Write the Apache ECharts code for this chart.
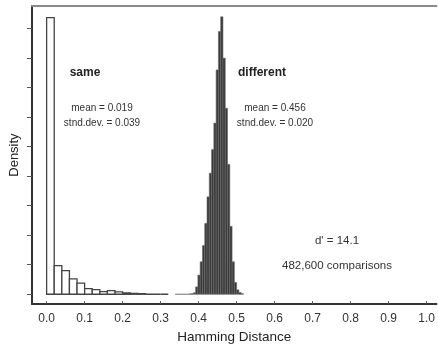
<!DOCTYPE html>
<html>
<head>
<meta charset="utf-8">
<script src="https://cdn.jsdelivr.net/npm/echarts@6/dist/echarts.min.js"></script>
<style>
  html, body { margin: 0; padding: 0; background: #fff; }
  #chart { width: 438px; height: 349px; }
</style>
</head>
<body>
<div id="chart"></div>
<script>
  // "same" histogram: bin starts (width 0.02) and heights
  var sameBinWidth = 0.02
  var sameBins = [0.00, 0.02, 0.04, 0.06, 0.08, 0.10, 0.12, 0.14, 0.16, 0.18, 0.20, 0.22, 0.24, 0.26, 0.28, 0.30]
  var sameDensity = [9.37, 0.97, 0.80, 0.52, 0.38, 0.19, 0.16, 0.09, 0.12, 0.08, 0.05, 0.03, 0.02, 0, 0, 0]

  // "different" histogram: bin starts (width 0.006) and heights
  var diffBinWidth = 0.006
  var diffBins = [0.338, 0.344, 0.350, 0.356, 0.362, 0.368, 0.374, 0.380, 0.386, 0.392,
    0.398, 0.404, 0.410, 0.416, 0.422, 0.428, 0.434, 0.440, 0.446, 0.452,
    0.458, 0.464, 0.470, 0.476, 0.482, 0.488, 0.494, 0.500, 0.506, 0.512]
  var diffDensity = [0, 0, 0, 0, 0, 0, 0.01, 0.02, 0.05, 0.25,
    0.65, 1.10, 1.65, 2.40, 3.30, 4.10, 4.90, 5.80, 7.60, 8.90,
    9.40, 8.00, 6.30, 4.40, 2.30, 1.10, 0.40, 0.15, 0.06, 0.02]

  var xTicks = [0, 0.1, 0.2, 0.3, 0.4, 0.5, 0.6, 0.7, 0.8, 0.9, 1.0]
  var yTicks = [0, 1, 2, 3, 4, 5, 6, 7, 8, 9]

  function toBins(starts, heights, width) {
    return starts.map(function (s, i) { return [s, s + width, heights[i]] })
  }

  function binRenderer(fill, stroke, lw) {
    return function (params, api) {
      var p0 = api.coord([api.value(0), api.value(2)])
      var p1 = api.coord([api.value(1), 0])
      return {
        type: 'rect',
        shape: { x: p0[0], y: p0[1], width: p1[0] - p0[0], height: p1[1] - p0[1] },
        style: { fill: fill, stroke: stroke, lineWidth: lw }
      }
    }
  }

  var font = 'Liberation Sans, Arial, sans-serif'
  var chart = echarts.init(document.getElementById('chart'), null, { renderer: 'canvas' })

  var option = {
    animation: false,
    backgroundColor: '#fff',
    textStyle: { fontFamily: font },
    grid: { left: 32, right: 0, top: 6, bottom: 40 },
    xAxis: [{
      type: 'value',
      min: -0.0385,
      max: 1.0257,
      name: 'Hamming Distance',
      nameLocation: 'middle',
      nameGap: 24,
      nameTextStyle: { fontSize: 13.5, color: '#222', fontFamily: font },
      axisLine: { show: true, onZero: false, lineStyle: { color: '#333', width: 2 } },
      axisTick: { show: true, inside: true, length: 3, customValues: xTicks, lineStyle: { color: '#555' } },
      axisLabel: {
        show: true, margin: 9, fontSize: 12, color: '#333', customValues: xTicks,
        formatter: function (v) { return v.toFixed(1) }
      },
      splitLine: { show: false }
    }, {
      type: 'value',
      position: 'top',
      min: -0.0385,
      max: 1.0257,
      axisLine: { show: true, onZero: false, lineStyle: { color: '#8a8a8a', width: 2 } },
      axisTick: { show: false },
      axisLabel: { show: false },
      splitLine: { show: false }
    }],
    yAxis: {
      type: 'value',
      min: -0.3333,
      max: 9.7667,
      name: 'Density',
      nameLocation: 'middle',
      nameGap: 11,
      nameTextStyle: { fontSize: 13, color: '#222', fontFamily: font },
      axisLine: { show: true, onZero: false, lineStyle: { color: '#333', width: 2 } },
      axisTick: { show: true, length: 5, customValues: yTicks, lineStyle: { color: '#555' } },
      axisLabel: { show: false },
      splitLine: { show: false }
    },
    series: [{
      type: 'custom',
      renderItem: binRenderer('#fff', '#444', 1.3),
      encode: { x: [0, 1], y: 2 },
      data: toBins(sameBins, sameDensity, sameBinWidth)
    }, {
      type: 'custom',
      renderItem: binRenderer('#3a3a3a', '#6a6a6a', 0.6),
      encode: { x: [0, 1], y: 2 },
      data: toBins(diffBins, diffDensity, diffBinWidth)
    }],
    graphic: [
      { type: 'text', x: 85, y: 73, style: { text: 'same', font: 'bold 12px ' + font, fill: '#222', align: 'center', verticalAlign: 'middle' } },
      { type: 'text', x: 102, y: 108, style: { text: 'mean = 0.019', font: '10px ' + font, fill: '#333', align: 'center', verticalAlign: 'middle' } },
      { type: 'text', x: 102, y: 123, style: { text: 'stnd.dev. = 0.039', font: '10px ' + font, fill: '#333', align: 'center', verticalAlign: 'middle' } },
      { type: 'text', x: 262, y: 73, style: { text: 'different', font: 'bold 12px ' + font, fill: '#222', align: 'center', verticalAlign: 'middle' } },
      { type: 'text', x: 275, y: 108, style: { text: 'mean = 0.456', font: '10px ' + font, fill: '#333', align: 'center', verticalAlign: 'middle' } },
      { type: 'text', x: 275, y: 123, style: { text: 'stnd.dev. = 0.020', font: '10px ' + font, fill: '#333', align: 'center', verticalAlign: 'middle' } },
      { type: 'text', x: 337, y: 241, style: { text: "d' = 14.1", font: '11.5px ' + font, fill: '#333', align: 'center', verticalAlign: 'middle' } },
      { type: 'text', x: 337, y: 266, style: { text: '482,600 comparisons', font: '11.5px ' + font, fill: '#333', align: 'center', verticalAlign: 'middle' } }
    ]
  }

  chart.setOption(option)
</script>
</body>
</html>
